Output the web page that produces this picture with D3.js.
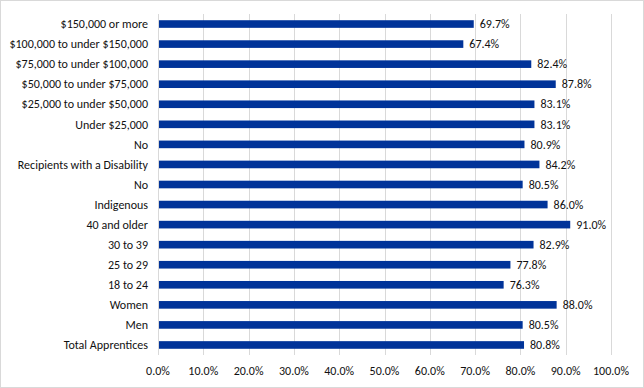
<!DOCTYPE html>
<html>
<head>
<meta charset="utf-8">
<script src="https://cdn.jsdelivr.net/npm/d3@7"></script>
<style>
  body { margin: 0; background: #fff; }
  text { font-family: Carlito, "Liberation Sans Narrow", Lato, sans-serif; fill: #111; }
</style>
</head>
<body>
<div id="chart"></div>
<script>
// DATA (top to bottom as drawn)
let categories = ["$150,000 or more", "$100,000 to under $150,000", "$75,000 to under $100,000",
    "$50,000 to under $75,000", "$25,000 to under $50,000", "Under $25,000", "No",
    "Recipients with a Disability", "No", "Indigenous", "40 and older", "30 to 39",
    "25 to 29", "18 to 24", "Women", "Men", "Total Apprentices"]
let values = [69.7, 67.4, 82.4, 87.8, 83.1, 83.1, 80.9, 84.2, 80.5, 86.0, 91.0, 82.9, 77.8, 76.3, 88.0, 80.5, 80.8]
let tickValues = [0, 10, 20, 30, 40, 50, 60, 70, 80, 90, 100]

// CHART AREA
let W = 644, H = 388
let margin = {top: 14, right: 33, bottom: 33, left: 158},
    width = W - margin.left - margin.right,
    height = H - margin.top - margin.bottom

let svg = d3.select("#chart").append("svg")
    .attr("width", W)
    .attr("height", H)

svg.append("rect")
    .attr("x", 0.5).attr("y", 0.5)
    .attr("width", W - 1).attr("height", H - 1)
    .attr("fill", "#fff")
    .attr("stroke", "#d9d9d9")

let g = svg.append("g")
    .attr("transform", "translate(" + margin.left + "," + margin.top + ")")

let x = d3.scaleLinear().domain([0, 100]).range([0, width])
let y = d3.scaleBand().domain(d3.range(categories.length)).range([0, height]).paddingInner(0.62).paddingOuter(0.31)

// gridlines
g.selectAll(".grid").data(tickValues.slice(1))
    .enter().append("line")
    .attr("x1", d => Math.round(x(d)) + 0.5)
    .attr("x2", d => Math.round(x(d)) + 0.5)
    .attr("y1", 0).attr("y2", height)
    .attr("stroke", "#d9d9d9")

// x tick labels
g.selectAll(".tick-label").data(tickValues)
    .enter().append("text")
    .attr("x", d => x(d))
    .attr("y", height + 20)
    .attr("text-anchor", "middle")
    .style("font-size", "12px")
    .text(d => d.toFixed(1) + "%")

// bars
g.selectAll(".bar").data(values)
    .enter().append("rect")
    .attr("x", 0)
    .attr("y", (d, i) => y(i))
    .attr("width", d => x(d))
    .attr("height", y.bandwidth())
    .attr("fill", "#003399")

// value labels
g.selectAll(".value").data(values)
    .enter().append("text")
    .attr("x", d => x(d) + 6)
    .attr("y", (d, i) => y(i) + y.bandwidth() / 2)
    .attr("dy", "0.35em")
    .style("font-size", "12px")
    .text(d => d.toFixed(1) + "%")

// category labels
g.selectAll(".cat").data(categories)
    .enter().append("text")
    .attr("x", -10)
    .attr("y", (d, i) => y(i) + y.bandwidth() / 2)
    .attr("dy", "0.35em")
    .attr("text-anchor", "end")
    .style("font-size", "12px")
    .text(d => d)

// vertical axis line
g.append("line")
    .attr("x1", 0.5).attr("x2", 0.5)
    .attr("y1", 0).attr("y2", height)
    .attr("stroke", "#d9d9d9")
</script>
</body>
</html>
